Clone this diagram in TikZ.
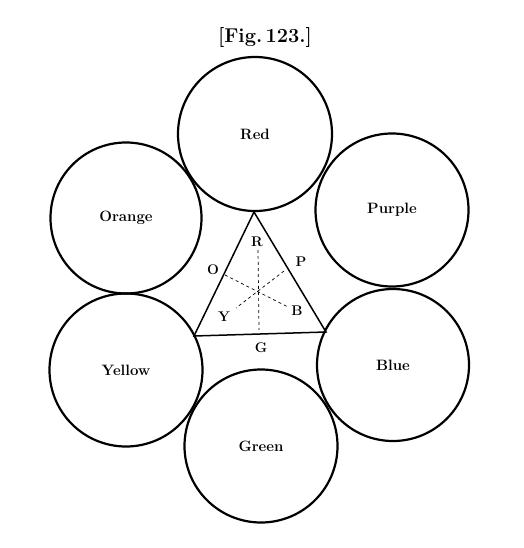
\documentclass[tikz,border=0pt]{standalone}
\usepackage{tikz}
\usetikzlibrary{positioning}
\tikzset{paint/.style={draw, circle, line width=2.2pt, inner sep=0pt, minimum size=154pt, font=\bfseries\fontsize{15}{17}\selectfont}}
\tikzstyle{lt}=[inner sep=0pt, font=\bfseries\fontsize{14}{16}\selectfont]

\begin{document}
\begin{tikzpicture}[x=1pt, y=-1pt]
\useasboundingbox (0,0) rectangle (523,548);
\node[font=\bfseries\fontsize{20}{22}\selectfont] (Fig) at (265,38) {[Fig.\,123.]};

\node[paint, minimum size=154pt] (Red) at (255,134) {Red};
\node[paint, minimum size=151pt] (Orange) at (126,218) {Orange};
\node[paint, minimum size=153pt] (Purple) at (392,210) {Purple};
\node[paint, minimum size=153pt] (Yellow) at (126,370) {Yellow};
\node[paint, minimum size=152pt] (Blue) at (393,365) {Blue};
\node[paint, minimum size=153pt] (Green) at (261,446) {Green};

% triangle between the circles
\coordinate (tR) at (254,212);
\coordinate (tY) at (194,336);
\coordinate (tB) at (326,332);
\draw[line width=1.5pt] (tR) -- (tY) -- (tB) -- cycle;

\coordinate (dR) at (258,250);
\coordinate (dG) at (259,330);
\coordinate (dO) at (225,275);
\coordinate (dB) at (288,307);
\coordinate (dP) at (284,271);
\coordinate (dY) at (236,308);
\path[dash pattern=on 3pt off 3pt, line width=0.7pt] (dR) edge (dG)
(dO) edge (dB)
(dP) edge (dY);

\node[lt] (R) at (257,242) {R};
\node[lt] (P) at (301,262) {P};
\node[lt] (O) at (213,270) {O};
\node[lt] (Y) at (224,317) {Y};
\node[lt] (B) at (297,311) {B};
\node[lt] (G) at (261,348) {G};
\end{tikzpicture}
\end{document}
